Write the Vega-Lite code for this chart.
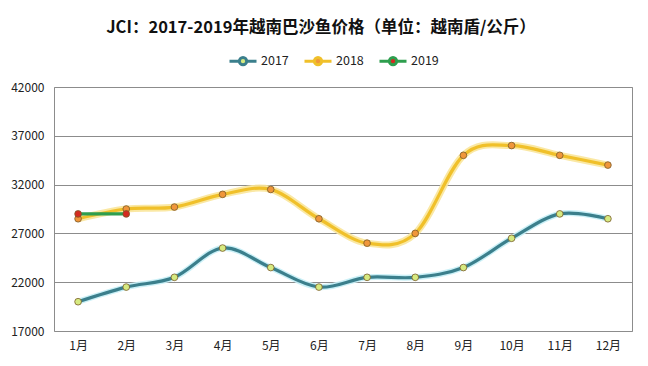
{
  "$schema": "https://vega.github.io/schema/vega-lite/v6.json",
  "width": 578,
  "height": 244,
  "autosize": {"type": "none"},
  "padding": {"left": 54, "top": 87, "right": 16, "bottom": 35},
  "background": "white",
  "config": {
    "font": "Noto Sans CJK SC",
    "view": {"stroke": "#8c8c8c", "strokeWidth": 1},
    "axis": {"labelFont": "Noto Sans CJK SC", "labelFontSize": 12, "labelColor": "#222222", "domain": false, "ticks": false, "title": null}
  },
  "title": {
    "text": "JCI：2017-2019年越南巴沙鱼价格（单位：越南盾/公斤）",
    "fontSize": 16.5,
    "fontWeight": "bold",
    "color": "#111111",
    "anchor": "middle",
    "frame": "group",
    "dx": -22,
    "offset": 10
  },
  "data": {
    "values": [
      {"month": "1月", "year": "2017", "value": 20000},
      {"month": "2月", "year": "2017", "value": 21500},
      {"month": "3月", "year": "2017", "value": 22500},
      {"month": "4月", "year": "2017", "value": 25500},
      {"month": "5月", "year": "2017", "value": 23500},
      {"month": "6月", "year": "2017", "value": 21500},
      {"month": "7月", "year": "2017", "value": 22500},
      {"month": "8月", "year": "2017", "value": 22500},
      {"month": "9月", "year": "2017", "value": 23500},
      {"month": "10月", "year": "2017", "value": 26500},
      {"month": "11月", "year": "2017", "value": 29000},
      {"month": "12月", "year": "2017", "value": 28500},
      {"month": "1月", "year": "2018", "value": 28500},
      {"month": "2月", "year": "2018", "value": 29500},
      {"month": "3月", "year": "2018", "value": 29700},
      {"month": "4月", "year": "2018", "value": 31000},
      {"month": "5月", "year": "2018", "value": 31500},
      {"month": "6月", "year": "2018", "value": 28500},
      {"month": "7月", "year": "2018", "value": 26000},
      {"month": "8月", "year": "2018", "value": 27000},
      {"month": "9月", "year": "2018", "value": 35000},
      {"month": "10月", "year": "2018", "value": 36000},
      {"month": "11月", "year": "2018", "value": 35000},
      {"month": "12月", "year": "2018", "value": 34000},
      {"month": "1月", "year": "2019", "value": 29000},
      {"month": "2月", "year": "2019", "value": 29000}
    ]
  },
  "encoding": {
    "x": {
      "field": "month",
      "type": "ordinal",
      "sort": ["1月","2月","3月","4月","5月","6月","7月","8月","9月","10月","11月","12月"],
      "scale": {"type": "point", "padding": 0.5},
      "axis": {"labelAngle": 0, "labelPadding": 9, "grid": false}
    },
    "y": {
      "field": "value",
      "type": "quantitative",
      "scale": {"domain": [17000, 42000], "nice": false, "zero": false},
      "axis": {"values": [17000, 22000, 27000, 32000, 37000, 42000], "grid": true, "gridColor": "#8c8c8c", "gridWidth": 1, "labelPadding": 10, "format": "d"}
    }
  },
  "layer": [
    {
      "transform": [{"filter": "datum.year == '2017'"}],
      "mark": {"type": "line", "interpolate": "cardinal", "stroke": "#c4eef6", "strokeWidth": 6, "opacity": 0.9}
    },
    {
      "transform": [{"filter": "datum.year == '2018'"}],
      "mark": {"type": "line", "interpolate": "cardinal", "stroke": "#f9e59a", "strokeWidth": 7, "opacity": 0.9}
    },
    {
      "mark": {"type": "line", "interpolate": "cardinal", "strokeWidth": 3.2},
      "encoding": {
        "stroke": {
          "field": "year",
          "type": "nominal",
          "scale": {"domain": ["2017", "2018", "2019"], "range": ["#3b7f8c", "#f0c02a", "#2e9e4e"]},
          "legend": {
            "title": null,
            "orient": "none",
            "legendX": 174,
            "legendY": -41,
            "direction": "horizontal",
            "symbolType": "M-1,0L-0.27,0M0.27,0L1,0M-0.27,0A0.27,0.27 0 1,1 0.27,0A0.27,0.27 0 1,1 -0.27,0Z",
            "symbolSize": 729,
            "symbolStrokeWidth": 3,
            "labelFontSize": 12.5,
            "labelColor": "#222222",
            "labelOffset": 3,
            "columnPadding": 9
          }
        }
      }
    },
    {
      "mark": {"type": "point", "filled": true, "size": 45, "stroke": "#7a5a2a", "strokeWidth": 0.8, "opacity": 1},
      "encoding": {
        "fill": {
          "field": "year",
          "type": "nominal",
          "scale": {"domain": ["2017", "2018", "2019"], "range": ["#d6ea80", "#f0963a", "#d42a20"]},
          "legend": {
            "title": null,
            "orient": "none",
            "legendX": 174,
            "legendY": -41,
            "direction": "horizontal",
            "symbolType": "M-1,0L-0.27,0M0.27,0L1,0M-0.27,0A0.27,0.27 0 1,1 0.27,0A0.27,0.27 0 1,1 -0.27,0Z",
            "symbolSize": 729,
            "labelFontSize": 12.5,
            "labelColor": "#222222",
            "labelOffset": 3,
            "columnPadding": 9
          }
        }
      }
    }
  ]
}
